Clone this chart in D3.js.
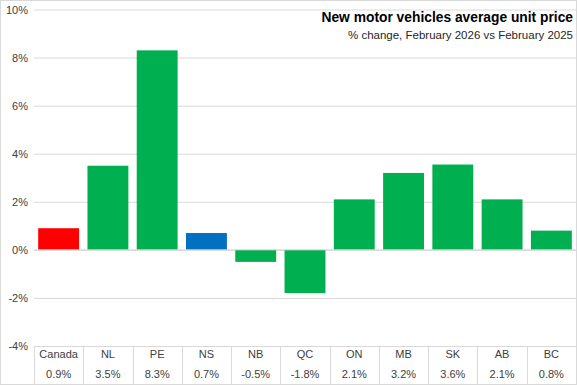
<!DOCTYPE html>
<html><head><meta charset="utf-8">
<script src="https://cdn.jsdelivr.net/npm/d3@7"></script>
<style>body{margin:0;background:#fff}svg{display:block;font-family:"Liberation Sans",Arial,sans-serif}</style>
</head><body>
<script>
const categories = ["Canada","NL","PE","NS","NB","QC","ON","MB","SK","AB","BC"];
const values = [0.9,3.5,8.3,0.7,-0.5,-1.8,2.1,3.2,3.55,2.1,0.8];
const valueLabels = ["0.9%","3.5%","8.3%","0.7%","-0.5%","-1.8%","2.1%","3.2%","3.6%","2.1%","0.8%"];
const barColors = ["#FF0000","#00B050","#00B050","#0070C0","#00B050","#00B050","#00B050","#00B050","#00B050","#00B050","#00B050"];
const yTicks = [-4,-2,0,2,4,6,8,10];
const title = "New motor vehicles average unit price";
const subtitle = "% change, February 2026 vs February 2025";

const W = 577, H = 385;
const svg = d3.select("body").append("svg").attr("width", W).attr("height", H);
svg.append("rect").attr("x",0.5).attr("y",0.5).attr("width",W-1).attr("height",H-1).attr("fill","#fff").attr("stroke","#d9d9d9");

const x = d3.scaleBand().domain(categories).range([34, 576]).paddingInner(0.17).paddingOuter(0.085);
const y = d3.scaleLinear().domain([-4, 10]).range([346, 9.5]);

const yAxis = svg.append("g").attr("transform","translate(34,0)")
  .call(d3.axisLeft(y).tickValues(yTicks).tickSize(-542).tickFormat(d => d + "%"));
yAxis.select(".domain").remove();
yAxis.selectAll(".tick line").attr("stroke","#d9d9d9");
yAxis.selectAll(".tick text").attr("x",-6).attr("fill","#404040").style("font-size","11px");

svg.append("g").selectAll("rect").data(values).join("rect")
  .attr("x",(d,i)=>x(categories[i]))
  .attr("width",x.bandwidth())
  .attr("y",d=>y(Math.max(0,d)))
  .attr("height",d=>Math.abs(y(d)-y(0)))
  .attr("fill",(d,i)=>barColors[i]);

svg.append("line").attr("x1",34).attr("x2",576).attr("y1",y(0)).attr("y2",y(0)).attr("stroke","#d9d9d9");

const step = x.step();
const x0 = 34;
const tbl = svg.append("g");
const rowTop = 346, rowBot = 385;
tbl.append("line").attr("x1",x0).attr("x2",576).attr("y1",rowTop+0.5).attr("y2",rowTop+0.5).attr("stroke","#d9d9d9");
tbl.append("line").attr("x1",x0).attr("x2",576).attr("y1",rowBot-0.5).attr("y2",rowBot-0.5).attr("stroke","#d9d9d9");
categories.forEach((c,i)=>{
  const xl = Math.round(x0 + i*step)+0.5;
  tbl.append("line").attr("x1",xl).attr("x2",xl).attr("y1",rowTop).attr("y2",rowBot).attr("stroke","#d9d9d9");
  const cx = x0 + (i+0.5)*step;
  tbl.append("text").attr("x",cx).attr("y",358).attr("text-anchor","middle").attr("fill","#404040").style("font-size","11px").text(c);
  tbl.append("text").attr("x",cx).attr("y",378).attr("text-anchor","middle").attr("fill","#404040").style("font-size","11px").text(valueLabels[i]);
});

svg.append("text").attr("x",573).attr("y",22).attr("text-anchor","end").attr("font-weight","bold").attr("fill","#000")
  .style("font-size","13.8px").text(title);
svg.append("text").attr("x",573).attr("y",39).attr("text-anchor","end").attr("fill","#262626")
  .style("font-size","11.5px").text(subtitle);
</script>
</body></html>
